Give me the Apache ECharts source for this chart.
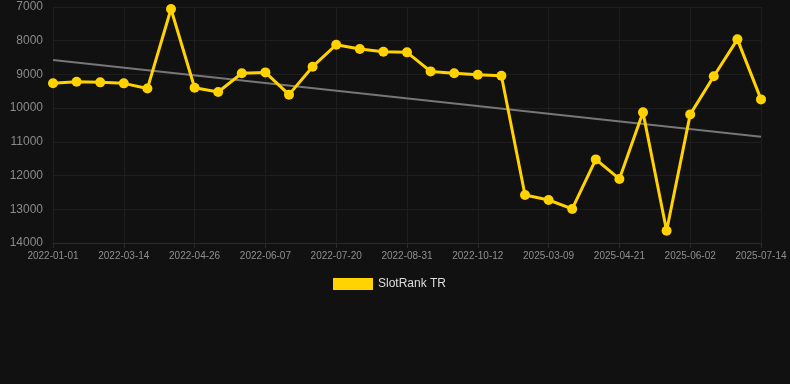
<!DOCTYPE html>
<html>
<head>
<meta charset="utf-8">
<script src="https://cdn.jsdelivr.net/npm/echarts@6/dist/echarts.min.js"></script>
<style>html,body{margin:0;padding:0;background:#111111;}#c{width:790px;height:384px;}</style>
</head>
<body>
<div id="c"></div>
<script>
const categories = ["2022-01-01","2022-01-25","2022-02-18","2022-03-14","2022-03-28","2022-04-12","2022-04-26","2022-05-10","2022-05-24","2022-06-07","2022-06-21","2022-07-06","2022-07-20","2022-08-03","2022-08-17","2022-08-31","2022-09-14","2022-09-28","2022-10-12","2025-02-09","2025-02-23","2025-03-09","2025-03-23","2025-04-07","2025-04-21","2025-05-05","2025-05-19","2025-06-02","2025-06-16","2025-06-30","2025-07-14"];
const rankValues = [9260,9215,9235,9265,9420,7060,9395,9520,8965,8940,9600,8770,8120,8245,8325,8345,8910,8965,9010,9040,12575,12725,12990,11520,12100,10125,13635,10185,9055,7960,9740];
const trendValues = [8570,null,null,null,null,null,null,null,null,null,null,null,null,null,null,null,null,null,null,null,null,null,null,null,null,null,null,null,null,null,10850];
const yTicks = {min:7000,max:14000,interval:1000};

const chart = echarts.init(document.getElementById('c'), null, {renderer:'canvas'});
chart.setOption({
  backgroundColor:'#111111',
  animation:false,
  grid:{left:53,right:29,top:7,bottom:141},
  legend:{
    data:['SlotRank TR'],
    top:278,left:333,padding:0,
    itemWidth:40,itemHeight:12,itemGap:10,
    textStyle:{color:'#dddddd',fontSize:12,fontFamily:'Liberation Sans, Arial, sans-serif'},
    icon:'rect'
  },
  xAxis:{
    type:'category',
    data:categories,
    boundaryGap:false,
    axisLine:{lineStyle:{color:'#2a2a2a'}},
    axisTick:{show:true,interval:2,lineStyle:{color:'#2a2a2a'}},
    axisLabel:{interval:2,color:'#8f8f8f',fontSize:10,fontFamily:'Liberation Sans, Arial, sans-serif',margin:8},
    splitLine:{show:true,interval:2,lineStyle:{color:'#1e1e1e'}}
  },
  yAxis:{
    type:'value',
    inverse:true,
    min:yTicks.min,max:yTicks.max,interval:yTicks.interval,
    axisLine:{show:false},
    axisTick:{show:false},
    axisLabel:{color:'#8a8a8a',fontSize:12,fontFamily:'Liberation Sans, Arial, sans-serif',margin:10,formatter:function(v){return String(v);}},
    splitLine:{lineStyle:{color:'#1e1e1e'}}
  },
  series:[
    {
      name:'SlotRank TR',
      type:'line',
      data:rankValues,
      itemStyle:{color:'#FFD200'},
      lineStyle:{color:'#FFD200',width:3},
      symbol:'circle',symbolSize:10,
      z:3
    },
    {
      name:'trend',
      type:'line',
      data:trendValues,
      connectNulls:true,
      symbol:'none',
      lineStyle:{color:'#777777',width:2},
      itemStyle:{color:'#777777'},
      z:2
    }
  ]
});
</script>
</body>
</html>
